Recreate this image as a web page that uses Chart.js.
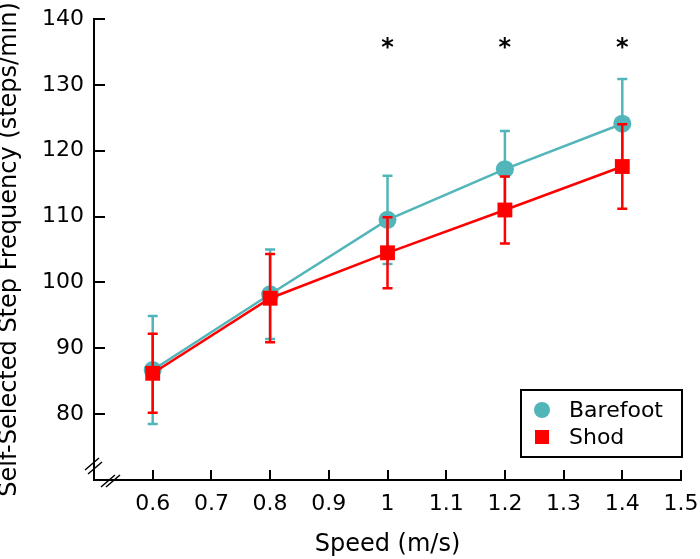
<!DOCTYPE html>
<html>
<head>
<meta charset="utf-8">
<script src="https://cdn.jsdelivr.net/npm/chart.js@4"></script>
<style>
  html, body { margin: 0; padding: 0; background: #fff; }
  #wrap { width: 700px; height: 559px; }
</style>
</head>
<body>
<div id="wrap"><canvas id="stepChart" width="700" height="559"></canvas></div>
<script>
const speeds = [0.6, 0.8, 1.0, 1.2, 1.4];
const barefootMean = [86.7, 98.2, 109.5, 117.2, 124.1];
const barefootSD = [8.2, 6.8, 6.7, 5.8, 6.8];
const shodMean = [86.2, 97.6, 104.5, 111.0, 117.6];
const shodSD = [6.0, 6.7, 5.4, 5.1, 6.4];
const sigSpeeds = [1.0, 1.2, 1.4];
const sigLevel = 135.5;
const xTickValues = [0.6, 0.7, 0.8, 0.9, 1.0, 1.1, 1.2, 1.3, 1.4, 1.5];
const yTickValues = [80, 90, 100, 110, 120, 130, 140];

const CYAN = '#52b5b9';
const RED = '#ff0000';
const FONT = 'DejaVu Sans';

const toPoints = (xs, ys) => xs.map((x, i) => ({ x: x, y: ys[i] }));

// error bars, drawn just before each dataset's line and markers
const errorBars = {
    id: 'errorBars',
    beforeDatasetDraw(chart, args) {
        const ds = chart.data.datasets[args.index];
        if (!ds.sd) return;
        const xs = chart.scales.x, ys = chart.scales.y;
        const ctx = chart.ctx;
        ctx.save();
        ctx.strokeStyle = ds.borderColor;
        ctx.lineWidth = 2.5;
        ds.data.forEach((p, i) => {
            const px = xs.getPixelForValue(p.x);
            const top = ys.getPixelForValue(p.y + ds.sd[i]);
            const bot = ys.getPixelForValue(p.y - ds.sd[i]);
            ctx.beginPath();
            ctx.moveTo(px, top); ctx.lineTo(px, bot);
            ctx.moveTo(px - 5, top); ctx.lineTo(px + 5, top);
            ctx.moveTo(px - 5, bot); ctx.lineTo(px + 5, bot);
            ctx.stroke();
        });
        ctx.restore();
    }
};

// inward ticks, axis breaks, asterisks and boxed legend
const decorations = {
    id: 'decorations',
    afterDraw(chart) {
        const ctx = chart.ctx;
        const xs = chart.scales.x, ys = chart.scales.y;
        const a = chart.chartArea;
        ctx.save();
        ctx.strokeStyle = '#000';
        ctx.lineWidth = 2;
        ctx.beginPath();
        xTickValues.forEach(v => {
            const px = Math.round(xs.getPixelForValue(v));
            ctx.moveTo(px, a.bottom); ctx.lineTo(px, a.bottom - 10);
        });
        yTickValues.forEach(v => {
            const py = Math.round(ys.getPixelForValue(v));
            ctx.moveTo(a.left, py); ctx.lineTo(a.left + 11, py);
        });
        ctx.stroke();

        // axis break marks
        ctx.lineWidth = 1.5;
        ctx.beginPath();
        [[a.left - 2, a.bottom - 16], [a.left + 1, a.bottom - 12]].forEach(([cx, cy]) => {
            ctx.moveTo(cx - 7, cy + 6); ctx.lineTo(cx + 7, cy - 6);
        });
        [[a.left + 14, a.bottom + 1], [a.left + 19, a.bottom + 1]].forEach(([cx, cy]) => {
            ctx.moveTo(cx - 7, cy + 6); ctx.lineTo(cx + 7, cy - 6);
        });
        ctx.stroke();

        // significance asterisks
        ctx.fillStyle = '#000';
        ctx.font = 'bold 24px "' + FONT + '"';
        ctx.textAlign = 'center';
        ctx.textBaseline = 'middle';
        sigSpeeds.forEach(s => {
            ctx.fillText('*', xs.getPixelForValue(s), ys.getPixelForValue(sigLevel));
        });

        // legend box
        const lx = a.right - 160, ly = a.bottom - 90, lw = 161, lh = 67;
        ctx.lineWidth = 2;
        ctx.strokeRect(lx, ly, lw, lh);
        ctx.font = '22px "' + FONT + '"';
        ctx.textAlign = 'left';
        const items = [chart.data.datasets[0], chart.data.datasets[1]];
        items.forEach((ds, i) => {
            const cy = ly + 20 + i * 27;
            const cx = lx + 21;
            ctx.fillStyle = ds.borderColor;
            if (ds.pointStyle === 'rect') {
                ctx.fillRect(cx - 7, cy - 7, 14, 14);
            } else {
                ctx.beginPath();
                ctx.arc(cx, cy, 8, 0, Math.PI * 2);
                ctx.fill();
            }
            ctx.fillStyle = '#000';
            ctx.fillText(ds.label, lx + 48, cy + 1);
        });
        ctx.restore();
    }
};

new Chart(document.getElementById('stepChart').getContext('2d'), {
    type: 'line',
    data: {
        datasets: [
            {
                label: 'Barefoot',
                data: toPoints(speeds, barefootMean),
                sd: barefootSD,
                borderColor: CYAN,
                backgroundColor: CYAN,
                borderWidth: 2.5,
                pointStyle: 'circle',
                pointRadius: 9,
                pointBorderWidth: 0,
                order: 2
            },
            {
                label: 'Shod',
                data: toPoints(speeds, shodMean),
                sd: shodSD,
                borderColor: RED,
                backgroundColor: RED,
                borderWidth: 2.5,
                pointStyle: 'rect',
                pointRadius: 10.5,
                pointBorderWidth: 0,
                order: 1
            }
        ]
    },
    options: {
        responsive: false,
        animation: false,
        events: [],
        layout: { padding: { top: 19, right: 19, left: 0, bottom: 0 } },
        plugins: { legend: { display: false }, tooltip: { enabled: false } },
        scales: {
            x: {
                type: 'linear',
                min: 0.5,
                max: 1.5,
                afterFit: s => { s.height = 79; s.paddingLeft = 0; s.paddingRight = 0; },
                afterBuildTicks: s => { s.ticks = xTickValues.map(v => ({ value: v })); },
                ticks: {
                    color: '#000',
                    font: { family: FONT, size: 22 },
                    padding: 11,
                    maxRotation: 0,
                    callback: v => String(Math.round(v * 10) / 10)
                },
                grid: { display: false, drawTicks: false },
                border: { display: true, color: '#000', width: 2 },
                title: {
                    display: true,
                    text: 'Speed (m/s)',
                    color: '#000',
                    font: { family: FONT, size: 24, lineHeight: 1.2 },
                    padding: { top: 0, bottom: 0 }
                }
            },
            y: {
                min: 70,
                max: 140,
                afterFit: s => { s.width = 94; s.paddingTop = 0; s.paddingBottom = 0; },
                afterBuildTicks: s => { s.ticks = yTickValues.map(v => ({ value: v })); },
                ticks: {
                    color: '#000',
                    font: { family: FONT, size: 22 },
                    padding: 10
                },
                grid: { display: false, drawTicks: false },
                border: { display: true, color: '#000', width: 2 },
                title: {
                    display: true,
                    text: 'Self-Selected Step Frequency (steps/min)',
                    color: '#000',
                    font: { family: FONT, size: 24, lineHeight: 1.0 },
                    padding: { top: -2, bottom: 0 }
                }
            }
        }
    },
    plugins: [errorBars, decorations]
});
</script>
</body>
</html>
